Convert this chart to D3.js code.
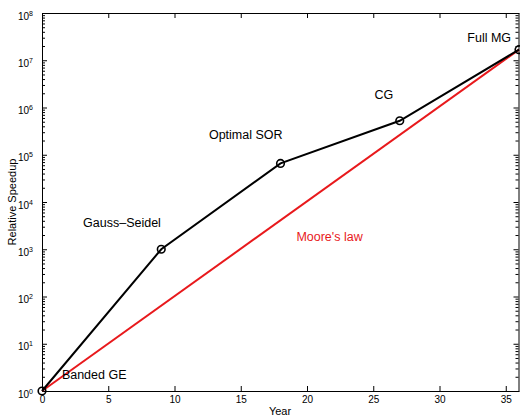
<!DOCTYPE html>
<html>
<head>
<meta charset="utf-8">
<script src="https://cdn.jsdelivr.net/npm/d3@7"></script>
<style>
  body { margin: 0; background: #fff; }
  svg { font-family: 'Liberation Sans', Arial, sans-serif; }
  .axis path, .axis line { stroke: #000; }
  .axis text { font-size: 10px; fill: #000; }
</style>
</head>
<body>
<svg id="chart"></svg>
<script>
// data
var years = [0, 9, 18, 27, 36];
var speedups = [1, 1000, 65536, 524288, 16777216];
var methods = ['Banded GE', 'Gauss\u2013Seidel', 'Optimal SOR', 'CG', 'Full MG'];
var mooreYears = [0, 36];
var mooreSpeedups = [1, 16777216];
var xTicks = [0, 5, 10, 15, 20, 25, 30, 35];
var yExponents = [0, 1, 2, 3, 4, 5, 6, 7, 8];

// label anchors in data coordinates
var methodLabelX = [1.5, 3.1, 12.6, 25.1, 32.1];
var methodLabelY = [1.8, 3000, 2.2e5, 1.5e6, 2.4e7];

var width = 520, height = 418;
var margin = { top: 13, right: 1, bottom: 27, left: 42 };

var svg = d3.select('#chart')
    .attr('width', width)
    .attr('height', height);

var x = d3.scaleLinear()
    .domain([0, 36])
    .range([margin.left, width - margin.right]);

var y = d3.scaleLog()
    .domain([1, 1e8])
    .range([height - margin.bottom, margin.top]);

// minor log ticks
var minor = [];
for (var e = 0; e < 8; e++) {
    for (var m = 2; m <= 9; m++) minor.push(m * Math.pow(10, e));
}

// x axes (bottom + mirrored top)
svg.append('g')
    .attr('class', 'axis')
    .attr('transform', 'translate(0,' + y(1) + ')')
    .call(d3.axisBottom(x).tickValues(xTicks).tickSize(-5).tickSizeOuter(0).tickPadding(5));

svg.append('g')
    .attr('class', 'axis')
    .attr('transform', 'translate(0,' + y(1e8) + ')')
    .call(d3.axisTop(x).tickValues(xTicks).tickSize(-5).tickSizeOuter(0).tickFormat(''));

// y axes (left + mirrored right)
var yLeft = svg.append('g')
    .attr('class', 'axis')
    .attr('transform', 'translate(' + x(0) + ',0)')
    .call(d3.axisLeft(y)
        .tickValues(yExponents.map(function (d) { return Math.pow(10, d); }))
        .tickSize(-5).tickSizeOuter(0).tickPadding(9)
        .tickFormat(''));

yLeft.selectAll('.tick text')
    .each(function (d) {
        var t = d3.select(this);
        t.append('tspan').text('10');
        t.append('tspan')
            .attr('dy', '-0.55em')
            .attr('font-size', '7px')
            .text(Math.round(Math.log10(d)));
    })
    .attr('dy', '0.6em')
    .attr('text-anchor', 'end');

svg.append('g')
    .attr('class', 'axis')
    .attr('transform', 'translate(' + x(0) + ',0)')
    .call(d3.axisLeft(y).tickValues(minor).tickSize(-3).tickSizeOuter(0).tickFormat(''))
    .select('.domain').remove();

svg.append('g')
    .attr('class', 'axis')
    .attr('transform', 'translate(' + (x(36) - 0.5) + ',0)')
    .call(d3.axisRight(y)
        .tickValues(yExponents.map(function (d) { return Math.pow(10, d); }))
        .tickSize(-5).tickSizeOuter(0).tickFormat(''));

svg.append('g')
    .attr('class', 'axis')
    .attr('transform', 'translate(' + (x(36) - 0.5) + ',0)')
    .call(d3.axisRight(y).tickValues(minor).tickSize(-3).tickSizeOuter(0).tickFormat(''))
    .select('.domain').remove();

// axis titles
svg.append('text')
    .attr('x', 280)
    .attr('y', 415)
    .attr('text-anchor', 'middle')
    .attr('font-size', '11px')
    .text('Year');

svg.append('text')
    .attr('transform', 'translate(16,' + ((y(1) + y(1e8)) / 2) + ') rotate(-90)')
    .attr('text-anchor', 'middle')
    .attr('font-size', '11px')
    .text('Relative Speedup');

// Moore's law
var mooreLine = d3.line()
    .x(function (d, i) { return x(mooreYears[i]); })
    .y(function (d) { return y(d); });

svg.append('path')
    .datum(mooreSpeedups)
    .attr('d', mooreLine)
    .attr('fill', 'none')
    .attr('stroke', '#e8191c')
    .attr('stroke-width', 2);

svg.append('text')
    .attr('x', x(19.2))
    .attr('y', y(1500))
    .attr('fill', '#e8191c')
    .attr('font-size', '12.5px')
    .text("Moore's law");

// algorithms
var algLine = d3.line()
    .x(function (d, i) { return x(years[i]); })
    .y(function (d) { return y(d); });

svg.append('path')
    .datum(speedups)
    .attr('d', algLine)
    .attr('fill', 'none')
    .attr('stroke', '#000')
    .attr('stroke-width', 2);

svg.selectAll('.pt')
    .data(speedups)
    .enter().append('circle')
    .attr('class', 'pt')
    .attr('cx', function (d, i) { return x(years[i]); })
    .attr('cy', function (d) { return y(d); })
    .attr('r', 3.8)
    .attr('fill', 'none')
    .attr('stroke', '#000')
    .attr('stroke-width', 1.6);

svg.selectAll('.lbl')
    .data(methods)
    .enter().append('text')
    .attr('class', 'lbl')
    .attr('x', function (d, i) { return x(methodLabelX[i]); })
    .attr('y', function (d, i) { return y(methodLabelY[i]); })
    .attr('font-size', '12.5px')
    .attr('fill', '#000')
    .text(function (d) { return d; });
</script>
</body>
</html>
